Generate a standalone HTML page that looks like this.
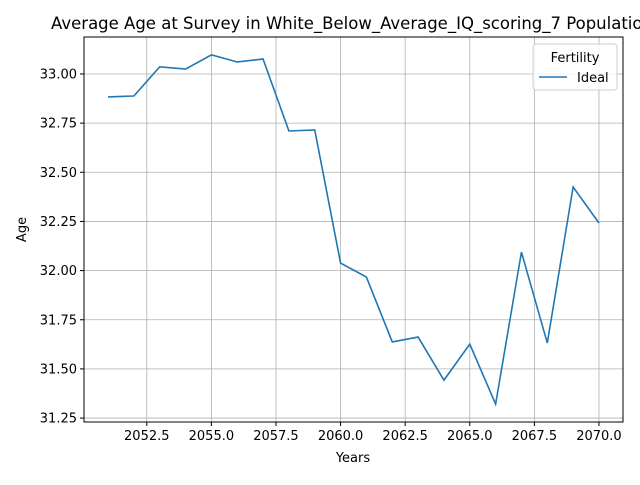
<!DOCTYPE html>
<html><head><meta charset="utf-8"><style>
body{margin:0;background:#fff;font-family:"Liberation Sans","DejaVu Sans",sans-serif;}
svg text{font-family:"DejaVu Sans","Liberation Sans",sans-serif;}
</style></head><body>
<svg id="chart" width="640" height="480" viewBox="0 0 640 480">
<rect width="640" height="480" fill="#fff"/>
<text x="352" y="29" font-size="16.5" text-anchor="middle" fill="#000">Average Age at Survey in White_Below_Average_IQ_scoring_7 Population</text>
<g id="grid"></g>
<g id="ticks"></g>
<path id="line" fill="none" stroke="#1f77b4" stroke-width="1.6"/>
<rect x="84" y="37" width="539" height="385" fill="none" stroke="#000" stroke-width="1"/>
<text x="353" y="462" font-size="13" text-anchor="middle">Years</text>
<text x="26" y="229.5" font-size="13" text-anchor="middle" transform="rotate(-90 26 229.5)">Age</text>
<g>
<rect x="533" y="44" width="84" height="46" rx="3" fill="#fff" fill-opacity="0.8" stroke="#ccc"/>
<text x="575" y="62" font-size="13" text-anchor="middle">Fertility</text>
<line x1="539" y1="77" x2="567" y2="77" stroke="#1f77b4" stroke-width="1.6"/>
<text x="577" y="82" font-size="13">Ideal</text>
</g>
</svg>
<script>
const years=[2051,2052,2053,2054,2055,2056,2057,2058,2059,2060,2061,2062,2063,2064,2065,2066,2067,2068,2069,2070];
const ages=[32.883,32.888,33.036,33.025,33.097,33.061,33.076,32.710,32.715,32.038,31.967,31.637,31.662,31.443,31.626,31.321,32.094,31.632,32.425,32.242];
const xTicks=[2052.5,2055.0,2057.5,2060.0,2062.5,2065.0,2067.5,2070.0];
const yTicks=[31.25,31.50,31.75,32.00,32.25,32.50,32.75,33.00];
const L=84,R=623,T=37,B=422;
const x0=2050.07,x1=2070.93,y0=31.230,y1=33.188;
const sx=v=>L+(v-x0)/(x1-x0)*(R-L);
const sy=v=>B-(v-y0)/(y1-y0)*(B-T);
const NS="http://www.w3.org/2000/svg";
const grid=document.getElementById('grid'),ticks=document.getElementById('ticks');
function mk(tag,attrs,parent){const e=document.createElementNS(NS,tag);for(const k in attrs)e.setAttribute(k,attrs[k]);parent.appendChild(e);return e;}
xTicks.forEach(t=>{const x=sx(t);
 const g=mk('line',{x1:x,x2:x,y1:T,y2:B,stroke:'#b0b0b0','stroke-width':0.8},grid);
 
 
 mk('line',{x1:x,x2:x,y1:B,y2:B+4,stroke:'#000'},ticks);
 const tx=mk('text',{x:x,y:B+18,'font-size':13,'text-anchor':'middle'},ticks);tx.textContent=t.toFixed(1);
 
 
});
yTicks.forEach(t=>{const y=sy(t);
 const g=mk('line',{x1:L,x2:R,y1:y,y2:y,stroke:'#b0b0b0','stroke-width':0.8},grid);
 
 
 mk('line',{x1:L-4,x2:L,y1:y,y2:y,stroke:'#000'},ticks);
 const tx=mk('text',{x:L-7,y:y+4.5,'font-size':13,'text-anchor':'end'},ticks);tx.textContent=t.toFixed(2);
 
 
});
document.getElementById('line').setAttribute('d',years.map((yr,i)=>(i?'L':'M')+sx(yr).toFixed(2)+' '+sy(ages[i]).toFixed(2)).join(' '));
</script>
</body></html>
